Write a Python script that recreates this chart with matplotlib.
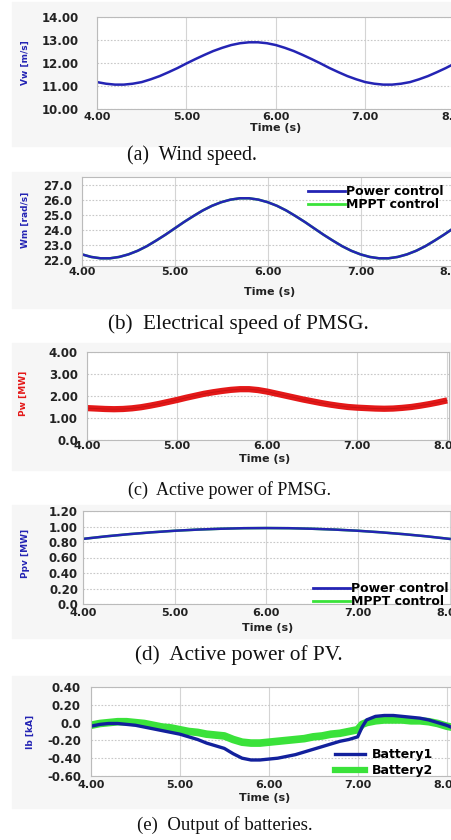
import matplotlib
matplotlib.use("Agg")
import matplotlib.pyplot as plt
from matplotlib.patches import Rectangle
from matplotlib.lines import Line2D

# ---- data ----
t = [4.0, 4.1, 4.2, 4.3, 4.4, 4.5, 4.6, 4.7, 4.8, 4.9,
     5.0, 5.1, 5.2, 5.3, 5.4, 5.5, 5.6, 5.7, 5.8, 5.9,
     6.0, 6.1, 6.2, 6.3, 6.4, 6.5, 6.6, 6.7, 6.8, 6.9,
     7.0, 7.1, 7.2, 7.3, 7.4, 7.5, 7.6, 7.7, 7.8, 7.9, 8.0]

vw = [11.17, 11.10, 11.06, 11.06, 11.10, 11.17, 11.29, 11.43, 11.60, 11.78,
      11.98, 12.17, 12.35, 12.52, 12.66, 12.78, 12.86, 12.90, 12.90, 12.86,
      12.78, 12.66, 12.52, 12.35, 12.17, 11.98, 11.78, 11.60, 11.43, 11.29,
      11.17, 11.10, 11.06, 11.06, 11.10, 11.17, 11.29, 11.43, 11.60, 11.78, 11.98]

wm = [22.37, 22.20, 22.11, 22.11, 22.20, 22.37, 22.61, 22.92, 23.29, 23.68,
      24.10, 24.52, 24.91, 25.28, 25.59, 25.83, 26.00, 26.09, 26.09, 26.00,
      25.83, 25.59, 25.28, 24.91, 24.52, 24.10, 23.68, 23.29, 22.92, 22.61,
      22.37, 22.20, 22.11, 22.11, 22.20, 22.37, 22.61, 22.92, 23.29, 23.68, 24.10]

pw = [1.45, 1.43, 1.41, 1.40, 1.41, 1.44, 1.49, 1.56, 1.64, 1.73,
      1.82, 1.92, 2.01, 2.10, 2.17, 2.23, 2.28, 2.31, 2.31, 2.27,
      2.20, 2.11, 2.02, 1.93, 1.84, 1.76, 1.68, 1.61, 1.55, 1.50,
      1.47, 1.45, 1.43, 1.42, 1.43, 1.46, 1.50, 1.56, 1.63, 1.71, 1.80]

t_pv = [4.0, 4.25, 4.5, 4.75, 5.0, 5.25, 5.5, 5.75, 6.0,
        6.25, 6.5, 6.75, 7.0, 7.25, 7.5, 7.75, 8.0]
ppv = [0.840, 0.873, 0.901, 0.925, 0.945, 0.960, 0.971, 0.978, 0.980,
       0.978, 0.971, 0.960, 0.945, 0.925, 0.901, 0.873, 0.840]

t_b = [4.0, 4.1, 4.2, 4.3, 4.4, 4.5, 4.6, 4.7, 4.8, 4.9,
       5.0, 5.1, 5.2, 5.3, 5.4, 5.5, 5.6, 5.7, 5.8, 5.9,
       6.0, 6.1, 6.2, 6.3, 6.4, 6.5, 6.6, 6.7, 6.8, 6.9,
       7.0, 7.05, 7.1, 7.2, 7.3, 7.4, 7.5, 7.6, 7.7, 7.8, 7.9, 8.0, 8.05]
battery1 = [-0.04, -0.02, -0.01, -0.01, -0.02, -0.03, -0.05, -0.07, -0.09, -0.11,
            -0.13, -0.16, -0.19, -0.23, -0.26, -0.29, -0.35, -0.40, -0.42, -0.42,
            -0.41, -0.40, -0.38, -0.36, -0.33, -0.30, -0.27, -0.24, -0.21, -0.19,
            -0.16, -0.05, 0.03, 0.07, 0.08, 0.08, 0.07, 0.06, 0.05, 0.03, 0.00, -0.03, -0.05]
battery2 = [-0.03, -0.01, 0.00, 0.01, 0.01, 0.00, -0.01, -0.03, -0.05, -0.06,
            -0.08, -0.10, -0.11, -0.13, -0.14, -0.15, -0.19, -0.22, -0.23, -0.23,
            -0.22, -0.21, -0.20, -0.19, -0.18, -0.16, -0.15, -0.13, -0.12, -0.10,
            -0.08, -0.02, 0.00, 0.02, 0.03, 0.03, 0.03, 0.02, 0.02, 0.01, -0.01, -0.04, -0.05]

x_ticks = [4.0, 5.0, 6.0, 7.0, 8.0]
x_labels = ["4.00", "5.00", "6.00", "7.00", "8.00"]
ya_ticks = [10, 11, 12, 13, 14]
ya_labels = ["10.00", "11.00", "12.00", "13.00", "14.00"]
yb_ticks = [22, 23, 24, 25, 26, 27]
yb_labels = ["22.0", "23.0", "24.0", "25.0", "26.0", "27.0"]
yc_ticks = [0, 1, 2, 3, 4]
yc_labels = ["0.0", "1.00", "2.00", "3.00", "4.00"]
yd_ticks = [0, 0.2, 0.4, 0.6, 0.8, 1.0, 1.2]
yd_labels = ["0.0", "0.20", "0.40", "0.60", "0.80", "1.00", "1.20"]
ye_ticks = [-0.6, -0.4, -0.2, 0.0, 0.2, 0.4]
ye_labels = ["-0.60", "-0.40", "-0.20", "0.0", "0.20", "0.40"]

captions = ["(a)  Wind speed.", "(b)  Electrical speed of PMSG.",
            "(c)  Active power of PMSG.", "(d)  Active power of PV.",
            "(e)  Output of batteries."]
ylabels = ["Vw [m/s]", "Wm [rad/s]", "Pw [MW]", "Ppv [MW]", "Ib [kA]"]

BLUE = "#2424b4"
NAVY = "#12209c"
GREEN = "#3ae23a"
RED = "#e41818"

W, H = 451, 840
fig = plt.figure(figsize=(W / 100, H / 100), dpi=100)
fig.patch.set_facecolor("white")


def px_axes(left, top, right, bottom):
    return fig.add_axes([left / W, 1 - bottom / H, (right - left) / W, (bottom - top) / H])


def fx(x):
    return x / W


def fy(y):
    return 1 - y / H


# faint grey blocks behind each plot
for top, bot in [(2, 146), (172, 308), (343, 470), (505, 638), (676, 808)]:
    fig.patches.append(Rectangle((fx(12), fy(bot)), 1, (bot - top) / H,
                                 transform=fig.transFigure, color="#f6f6f6", zorder=-5))


def style(ax, xlim, ylim, yt, yl, xpad, ypad):
    ax.set_xlim(*xlim)
    ax.set_ylim(*ylim)
    ax.set_xticks(x_ticks)
    ax.set_xticklabels(x_labels)
    ax.set_yticks(yt)
    ax.set_yticklabels(yl)
    ax.tick_params(length=0, labelsize=8.5)
    ax.tick_params(axis="x", pad=xpad * 0.72, labelsize=8)
    ax.tick_params(axis="y", pad=ypad * 0.72)
    for lab in ax.get_xticklabels() + ax.get_yticklabels():
        lab.set_fontweight("bold")
        lab.set_color("#222222")
    ax.xaxis.grid(True, color="#d4d4d4", lw=0.8, ls="-")
    ax.yaxis.grid(True, color="#c8c8c8", lw=0.8, ls=(0, (1.5, 1.5)))
    ax.set_axisbelow(True)
    for s in ax.spines.values():
        s.set_color("#bbbbbb")
        s.set_linewidth(0.8)
    ax.set_facecolor("white")


legend_font = {"weight": "bold", "size": 9}

# (a)
ax = px_axes(97, 17, 461, 109)
ax.plot(t, vw, color=BLUE, lw=1.8)
style(ax, (4.0, 8.07), (10, 14), ya_ticks, ya_labels, 3, 18)

# (b)
ax = px_axes(82, 177, 458, 266)
ax.plot(t, wm, color=GREEN, lw=1.8, label="MPPT control")
ax.plot(t, wm, color=BLUE, lw=1.8, label="Power control")
style(ax, (4.0, 8.05), (21.6, 27.5), yb_ticks, yb_labels, 1, 10)
hb = [Line2D([], [], color=BLUE, lw=2), Line2D([], [], color=GREEN, lw=2)]
fig.legend(hb, ["Power control", "MPPT control"], loc="upper left",
           bbox_to_anchor=(fx(302), fy(179)), frameon=False, handlelength=2.9,
           handletextpad=0.15, labelspacing=0.0, borderpad=0, prop=legend_font)

# (c)
ax = px_axes(87, 352, 449, 440)
ax.plot(t, pw, color=RED, lw=4.5, solid_capstyle="butt")
ax.plot(t, pw, color="#b01010", lw=0.6, alpha=0.6)
style(ax, (4.0, 8.02), (0, 4.0), yc_ticks, yc_labels, 1, 9)

# (d)
ax = px_axes(83, 511, 456, 604)
ax.plot(t_pv, ppv, color=GREEN, lw=1.8)
ax.plot(t_pv, ppv, color=BLUE, lw=1.8)
style(ax, (4.0, 8.07), (0, 1.2), yd_ticks, yd_labels, 4, 5)
fig.legend(hb, ["Power control", "MPPT control"], loc="upper left",
           bbox_to_anchor=(fx(307), fy(576)), frameon=False, handlelength=2.9,
           handletextpad=0.15, labelspacing=0.0, borderpad=0, prop=legend_font)

# (e)
ax = px_axes(91, 687, 451, 776)
ax.plot(t_b, battery2, color=GREEN, lw=5.5)
ax.plot(t_b, battery1, color=NAVY, lw=2.4)
style(ax, (4.0, 8.05), (-0.6, 0.4), ye_ticks, ye_labels, 4, 10)
he = [Line2D([], [], color=NAVY, lw=2.4), Line2D([], [], color=GREEN, lw=4.5)]
fig.legend(he, ["Battery1", "Battery2"], loc="upper left",
           bbox_to_anchor=(fx(329), fy(742)), frameon=False, handlelength=2.4,
           handletextpad=0.5, labelspacing=0.25, borderpad=0, prop=legend_font)

# y labels, Time labels and captions
ylab_pos = [(25, 63, BLUE), (25, 220, BLUE), (23, 393, RED), (25, 553, BLUE), (30, 732, BLUE)]
for (x, y, c), s in zip(ylab_pos, ylabels):
    fig.text(fx(x), fy(y), s, rotation=90, ha="center", va="center",
             color=c, fontsize=6.5, fontweight="bold")

time_pos = [(276, 128), (270, 292), (265, 459), (268, 628), (265, 798)]
for x, y in time_pos:
    fig.text(fx(x), fy(y), "Time (s)", ha="center", va="center",
             fontsize=8, fontweight="bold", color="#222222")

cap_pos = [(192, 155, 14.2), (238, 324, 15.2), (230, 490, 13.0),
           (239, 655, 15.3), (225, 825, 13.5)]
for (x, y, fs), s in zip(cap_pos, captions):
    fig.text(fx(x), fy(y), s, ha="center", va="center",
             fontsize=fs, family="Liberation Serif", color="#111111")

fig.savefig("out.png", dpi=100)
